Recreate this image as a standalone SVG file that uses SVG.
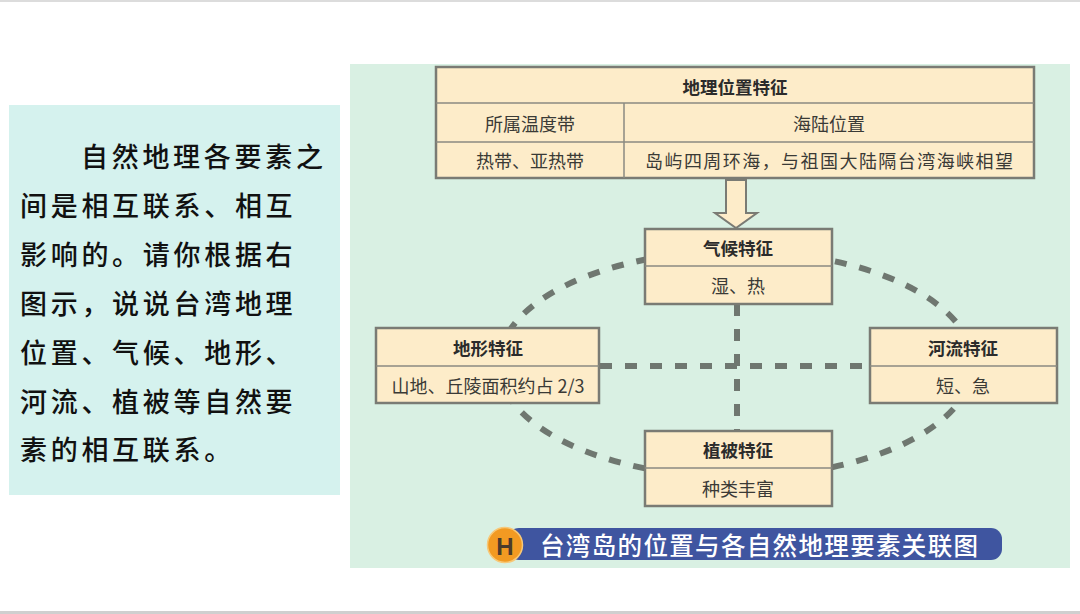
<svg xmlns="http://www.w3.org/2000/svg" width="1080" height="614" viewBox="0 0 1080 614">
<style>
.box{fill:#fdecc9;stroke:#7a7b74;stroke-width:2.5}
.div{stroke:#8a8a80;stroke-width:1.5}
.t{font-family:"Noto Sans CJK SC","Liberation Sans",sans-serif;font-size:17.5px;font-weight:700;fill:#2b2b2b;text-anchor:middle;dominant-baseline:central}
.s{font-family:"Noto Sans CJK SC","Liberation Sans",sans-serif;font-size:18px;fill:#3a3a36;text-anchor:middle;dominant-baseline:central}
.dash{fill:none;stroke:#6f7770;stroke-width:6;stroke-dasharray:12 13}
.lt{font-family:"Noto Sans CJK SC","Liberation Sans",sans-serif;font-size:27px;font-weight:500;fill:#111111;letter-spacing:3.7px}
</style>
<rect width="1080" height="614" fill="#ffffff"/>
<rect x="0" y="0" width="1080" height="2" fill="#dcdcdc"/>
<rect x="0" y="611" width="1080" height="3" fill="#cfcfcf"/>
<g id="left-panel">
<rect x="9" y="105" width="331" height="390" fill="#d5f2ee"/>
<text class="lt" x="81" y="167">自然地理各要素之</text>
<text class="lt" x="20" y="216">间是相互联系、相互</text>
<text class="lt" x="20" y="265">影响的。请你根据右</text>
<text class="lt" x="20" y="314">图示，说说台湾地理</text>
<text class="lt" x="20" y="363">位置、气候、地形、</text>
<text class="lt" x="20" y="412">河流、植被等自然要</text>
<text class="lt" x="20" y="460">素的相互联系。</text>
</g>
<rect x="350" y="64" width="720" height="504" fill="#d9f0e3"/>
<g id="connectors">
<ellipse class="dash" cx="736" cy="364" rx="237" ry="113"/>
<line class="dash" x1="600" y1="366" x2="870" y2="366"/>
<line class="dash" x1="737" y1="304" x2="737" y2="431"/>
<path d="M726,180 L746,180 L746,213 L757,213 L736,228 L715,213 L726,213 Z" fill="#fdecc9" stroke="#7a7b74" stroke-width="2"/>
</g>
<g id="location">
<rect class="box" x="436" y="67" width="598" height="111"/>
<line class="div" x1="436" y1="103" x2="1034" y2="103"/>
<line class="div" x1="436" y1="142" x2="1034" y2="142"/>
<line class="div" x1="624" y1="103" x2="624" y2="178"/>
<text class="t" x="735" y="86">地理位置特征</text>
<text class="s" x="530" y="123">所属温度带</text>
<text class="s" x="829" y="123">海陆位置</text>
<text class="s" x="530" y="160">热带、亚热带</text>
<text class="s" x="829" y="160" textLength="368" lengthAdjust="spacing">岛屿四周环海，与祖国大陆隔台湾海峡相望</text>
</g>
<g id="climate">
<rect class="box" x="645" y="229" width="187" height="75"/>
<line class="div" x1="645" y1="266" x2="832" y2="266"/>
<text class="t" x="738" y="247">气候特征</text>
<text class="s" x="738" y="285">湿、热</text>
</g>
<g id="landform">
<rect class="box" x="376" y="328" width="223" height="75"/>
<line class="div" x1="376" y1="366" x2="599" y2="366"/>
<text class="t" x="488" y="347">地形特征</text>
<text class="s" x="488" y="385">山地、丘陵面积约占 2/3</text>
</g>
<g id="river">
<rect class="box" x="870" y="328" width="187" height="75"/>
<line class="div" x1="870" y1="366" x2="1057" y2="366"/>
<text class="t" x="963" y="347">河流特征</text>
<text class="s" x="963" y="385">短、急</text>
</g>
<g id="vegetation">
<rect class="box" x="645" y="431" width="187" height="75"/>
<line class="div" x1="645" y1="468" x2="832" y2="468"/>
<text class="t" x="738" y="449">植被特征</text>
<text class="s" x="738" y="488">种类丰富</text>
</g>
<g id="caption">
<rect x="508" y="528" width="494" height="32" rx="11" fill="#3f55a0"/>
<circle cx="505" cy="545" r="17.5" fill="#f29a22" stroke="#f7c878" stroke-width="1.5"/>
<text x="505" y="546" font-family="Liberation Sans, sans-serif" font-size="24" font-weight="700" fill="#4a3b2c" text-anchor="middle" dominant-baseline="central">H</text>
<text x="540" y="544" font-family="Noto Sans CJK SC, Liberation Sans, sans-serif" font-size="24.5" font-weight="500" fill="#ffffff" dominant-baseline="central" textLength="438" lengthAdjust="spacing">台湾岛的位置与各自然地理要素关联图</text>
</g>
</svg>
